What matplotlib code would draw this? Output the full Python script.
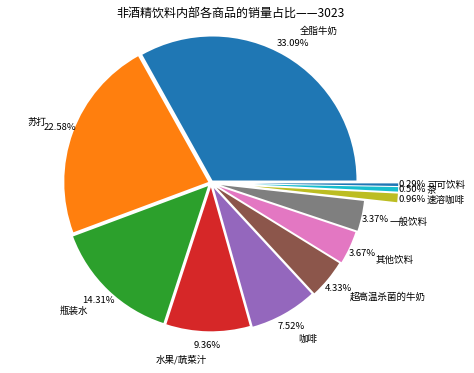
import matplotlib
matplotlib.use("Agg")
import matplotlib.pyplot as plt

plt.rcParams['font.family'] = ['Noto Sans CJK SC', 'DejaVu Sans']

labels = ['全脂牛奶', '苏打', '瓶装水', '水果/蔬菜汁', '咖啡', '超高温杀菌的牛奶',
          '其他饮料', '一般饮料', '速溶咖啡', '茶', '可可饮料']
values = [33.09, 22.58, 14.31, 9.36, 7.52, 4.33, 3.67, 3.37, 0.96, 0.50, 0.29]
explode = [0.02, 0.02, 0.03, 0.03, 0.04, 0.05, 0.06, 0.07, 0.3, 0.3, 0.3]
title = '非酒精饮料内部各商品的销量占比——3023'

pct_iter = iter(values)


def fmt_pct(_):
    return '%.2f%%' % next(pct_iter)


W, H, DPI = 474, 373, 72
fig = plt.figure(figsize=(W / DPI, H / DPI), dpi=DPI)
ax = fig.add_axes([0, 0, 1, 1])
ax.pie(values, labels=labels, explode=explode, autopct=fmt_pct,
       pctdistance=1.1, labeldistance=1.2,
       textprops={'fontsize': 9.5})
cx, cy, R = 211, 183, 144
ax.set_xlim(-cx / R, (W - cx) / R)
ax.set_ylim(-(H - cy) / R, cy / R)
ax.set_aspect('auto')
ax.axis('off')
fig.text(230 / W, 1 - 13 / H, title, ha='center', va='center', fontsize=12)
fig.savefig('out.png', dpi=DPI)
